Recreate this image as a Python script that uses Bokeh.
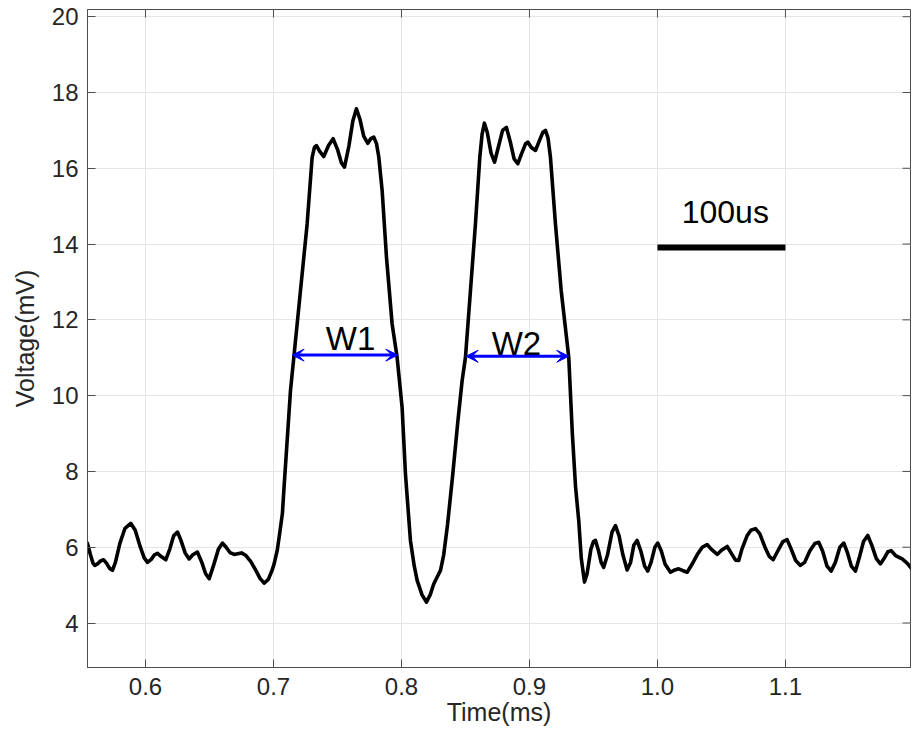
from bokeh.plotting import figure
from bokeh.models import (ColumnDataSource, FixedTicker, Range1d,
                          Arrow, VeeHead, NumeralTickFormatter)
from bokeh.core.properties import value
from bokeh.embed import file_html
from bokeh.resources import INLINE
import math

# ---- data ----
time_ms = [
    0.5547, 0.5570, 0.5590, 0.5604, 0.5625, 0.5650, 0.5672, 0.5695, 0.5720, 0.5742,
    0.5765, 0.5800, 0.5840, 0.5885, 0.5920, 0.5960, 0.5990, 0.6016, 0.6045, 0.6070,
    0.6094, 0.6120, 0.6159, 0.6190, 0.6220, 0.6250, 0.6275, 0.6310, 0.6341, 0.6370,
    0.6406, 0.6440, 0.6470, 0.6498, 0.6530, 0.6570, 0.6602, 0.6630, 0.6660, 0.6693,
    0.6720, 0.6750, 0.6785, 0.6823, 0.6860, 0.6895, 0.6927, 0.6960, 0.6990, 0.7005,
    0.7029, 0.7050, 0.7070, 0.7081, 0.7107, 0.7133, 0.7159, 0.7211, 0.7263, 0.7302,
    0.7320, 0.7336, 0.7360, 0.7393, 0.7430, 0.7466, 0.7500, 0.7530, 0.7555, 0.7590,
    0.7620, 0.7648, 0.7675, 0.7705, 0.7737, 0.7760, 0.7784, 0.7805, 0.7823, 0.7849,
    0.7883, 0.7927, 0.7966, 0.8005, 0.8031, 0.8070, 0.8100, 0.8123, 0.8160, 0.8195,
    0.8225, 0.8252, 0.8280, 0.8305, 0.8330, 0.8360, 0.8400, 0.8440, 0.8474, 0.8500,
    0.8539, 0.8578, 0.8612, 0.8630, 0.8648, 0.8670, 0.8700, 0.8727, 0.8760, 0.8790,
    0.8820, 0.8850, 0.8880, 0.8909, 0.8940, 0.8970, 0.8987, 0.9015, 0.9047, 0.9080,
    0.9105, 0.9125, 0.9145, 0.9164, 0.9203, 0.9248, 0.9307, 0.9335, 0.9360, 0.9385,
    0.9405, 0.9430, 0.9450, 0.9480, 0.9500, 0.9516, 0.9540, 0.9560, 0.9580, 0.9610,
    0.9645, 0.9672, 0.9700, 0.9730, 0.9763, 0.9790, 0.9815, 0.9841, 0.9870, 0.9900,
    0.9924, 0.9950, 0.9980, 1.0002, 1.0030, 1.0060, 1.0102, 1.0135, 1.0166, 1.0200,
    1.0232, 1.0270, 1.0310, 1.0350, 1.0388, 1.0420, 1.0467, 1.0500, 1.0545, 1.0575,
    1.0610, 1.0635, 1.0660, 1.0700, 1.0730, 1.0766, 1.0800, 1.0840, 1.0875, 1.0904,
    1.0940, 1.0980, 1.1013, 1.1045, 1.1080, 1.1117, 1.1150, 1.1190, 1.1230, 1.1260,
    1.1290, 1.1325, 1.1357, 1.1390, 1.1425, 1.1456, 1.1485, 1.1515, 1.1547, 1.1575,
    1.1610, 1.1643, 1.1675, 1.1710, 1.1742, 1.1770, 1.1800, 1.1826, 1.1860, 1.1912,
    1.1950, 1.1987,
]
voltage_mv = [
    6.10, 5.80, 5.58, 5.52, 5.56, 5.64, 5.67, 5.58, 5.44, 5.39,
    5.60, 6.10, 6.50, 6.63, 6.45, 6.00, 5.72, 5.60, 5.68, 5.80,
    5.84, 5.76, 5.67, 5.95, 6.30, 6.40, 6.20, 5.85, 5.69, 5.80,
    5.87, 5.60, 5.30, 5.17, 5.50, 5.95, 6.11, 6.00, 5.86, 5.81,
    5.83, 5.85, 5.78, 5.62, 5.40, 5.18, 5.05, 5.15, 5.40, 5.56,
    5.91, 6.40, 6.90, 7.50, 8.82, 10.14, 11.01, 12.77, 14.53, 16.29,
    16.55, 16.60, 16.45, 16.31, 16.60, 16.78, 16.50, 16.15, 16.03, 16.60,
    17.25, 17.57, 17.30, 16.85, 16.66, 16.78, 16.82, 16.65, 16.29, 15.41,
    13.65, 11.89, 11.01, 9.69, 7.94, 6.18, 5.50, 5.12, 4.75, 4.55,
    4.75, 5.03, 5.22, 5.39, 5.80, 6.60, 7.90, 9.30, 10.40, 11.01,
    12.77, 14.53, 16.29, 16.90, 17.19, 16.95, 16.40, 16.16, 16.60, 17.00,
    17.08, 16.70, 16.25, 16.12, 16.40, 16.65, 16.69, 16.55, 16.47, 16.75,
    16.95, 17.00, 16.80, 16.29, 14.53, 12.77, 11.01, 9.00, 7.60, 6.70,
    5.70, 5.08, 5.30, 5.95, 6.15, 6.18, 5.90, 5.60, 5.47, 5.80,
    6.40, 6.57, 6.30, 5.80, 5.40, 5.60, 6.05, 6.18, 5.90, 5.50,
    5.37, 5.60, 6.00, 6.11, 5.90, 5.55, 5.34, 5.40, 5.43, 5.38,
    5.34, 5.55, 5.80, 6.00, 6.07, 5.95, 5.81, 5.92, 6.02, 5.85,
    5.66, 5.65, 5.95, 6.30, 6.45, 6.49, 6.35, 6.00, 5.75, 5.67,
    5.90, 6.15, 6.20, 5.95, 5.65, 5.52, 5.60, 5.90, 6.10, 6.13,
    5.90, 5.50, 5.37, 5.60, 6.00, 6.11, 5.85, 5.50, 5.37, 5.70,
    6.15, 6.31, 6.05, 5.70, 5.56, 5.70, 5.88, 5.91, 5.78, 5.69,
    5.58, 5.43,
]

width_labels = ["W1", "W2"]
width_start = [0.7146, 0.8505]
width_end = [0.7971, 0.9307]
width_level = [11.07, 11.04]
width_label_x = [0.7602, 0.8898]
width_label_y = [11.51, 11.38]

scale_label = ["100us"]
scale_start = [1.0]
scale_end = [1.1]
scale_level = [13.91]
scale_label_x = [1.053]
scale_label_y = [14.84]

x_ticks = [0.6, 0.7, 0.8, 0.9, 1.0, 1.1]
y_ticks = [4, 6, 8, 10, 12, 14, 16, 18, 20]

X0, X1 = 0.5547, 1.1977
Y0, Y1 = 2.826, 20.19

FONT = "Liberation Sans"
TXT = "#262626"
AX = "#4d4d4d"

p = figure(width=912, height=740, output_backend="svg", toolbar_location=None,
           x_range=Range1d(X0, X1), y_range=Range1d(Y0, Y1),
           min_border_left=87, min_border_right=2, min_border_top=9,
           min_border_bottom=73, background_fill_color="white",
           border_fill_color="white")
p.outline_line_color = AX
p.outline_line_width = 1

for ax in (p.xaxis[0], p.yaxis[0]):
    ax.major_tick_in = 8
    ax.major_tick_out = 0
    ax.minor_tick_in = 0
    ax.minor_tick_out = 0
    ax.axis_line_color = AX
    ax.major_tick_line_color = AX
    ax.major_label_text_font = FONT
    ax.major_label_text_font_size = "24px"
    ax.major_label_text_color = TXT
    ax.axis_label_text_font = FONT
    ax.axis_label_text_font_size = "25px"
    ax.axis_label_text_font_style = "normal"
    ax.axis_label_text_color = TXT

p.xaxis[0].ticker = FixedTicker(ticks=x_ticks)
p.xaxis[0].formatter = NumeralTickFormatter(format="0.0")
p.xaxis[0].axis_label = "Time(ms)"
p.xaxis[0].major_label_standoff = 10
p.xaxis[0].axis_label_standoff = 0

p.yaxis[0].ticker = FixedTicker(ticks=y_ticks)
p.yaxis[0].axis_label = "Voltage(mV)"
p.yaxis[0].major_label_standoff = 9
p.yaxis[0].axis_label_standoff = 10

p.xgrid.ticker = FixedTicker(ticks=x_ticks)
p.ygrid.ticker = FixedTicker(ticks=y_ticks)
p.grid.grid_line_color = "#e6e6e6"
p.grid.grid_line_width = 1

# inward tick marks on the top and right edges of the box (clipped to frame)
p.scatter(x=x_ticks, y=[Y1] * len(x_ticks), marker="dash", angle=math.pi / 2,
          size=16, line_color=AX, line_width=1)
p.scatter(x=[X1] * len(y_ticks), y=y_ticks, marker="dash",
          size=16, line_color=AX, line_width=1)

src = ColumnDataSource(dict(t=time_ms, v=voltage_mv))
p.line("t", "v", source=src, line_color="black", line_width=3.6, line_join="round",
       line_cap="round")

# width arrows
for s, e, lv in zip(width_start, width_end, width_level):
    p.add_layout(Arrow(x_start=s, y_start=lv, x_end=e, y_end=lv,
                       line_color="#0000ff", line_width=3,
                       start=VeeHead(size=12, line_color="#0000ff", fill_color="#0000ff", line_width=1),
                       end=VeeHead(size=12, line_color="#0000ff", fill_color="#0000ff", line_width=1)))
p.text(x=width_label_x, y=width_label_y, text=width_labels, text_font=value(FONT),
       text_font_size="33px", text_align="center", text_baseline="alphabetic",
       text_color="black")

# scale bar
p.segment(x0=scale_start, y0=scale_level, x1=scale_end, y1=scale_level,
          line_color="black", line_width=6)
p.text(x=scale_label_x, y=scale_label_y, text=scale_label, text_font=value(FONT),
       text_font_size="32px", text_align="center", text_baseline="alphabetic",
       text_color="black")

open("out.html", "w").write(file_html(p, INLINE))
